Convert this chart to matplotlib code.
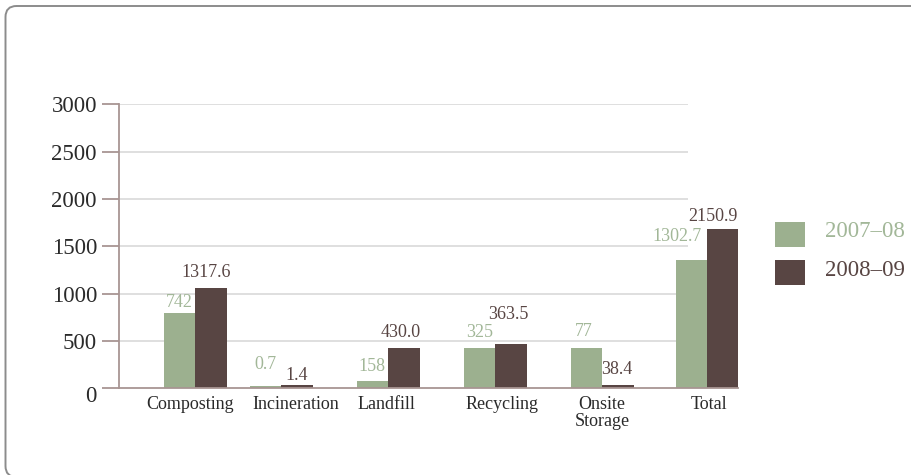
import matplotlib
matplotlib.use("Agg")
import matplotlib.pyplot as plt
from matplotlib.patches import FancyBboxPatch, Rectangle

plt.rcParams['font.family'] = ['Liberation Serif', 'DejaVu Serif']

# ---- data ----
categories = ["Composting", "Incineration", "Landfill", "Recycling", "Onsite\nStorage", "Total"]
series_names = ["2007\u201308", "2008\u201309"]
heights_0708 = [799, 27, 77, 429, 429, 1355]      # drawn bar heights
heights_0809 = [1060, 38, 429, 468, 35, 1683]
labels_0708 = ["742", "0.7", "158", "325", "77", "1302.7"]     # printed values
labels_0809 = ["1317.6", "1.4", "430.0", "363.5", "38.4", "2150.9"]
yticks = [0, 500, 1000, 1500, 2000, 2500, 3000]

# ---- layout (pixel-like x units) ----
W, H, DPI = 911, 475, 100
group_x = [195, 281, 388, 495, 602, 707]
label_x = [190, 296, 386, 502, 602, 709]
bar_w = 31.5
# label offsets (dx, dy) in pixels from bar top centre
off_0708 = [(0, 10.5), (0, 21.7), (0, 14.7), (0, 15.5), (-2, 16.5), (-14, 23.8)]
off_0809 = [(-5, 15.8), (0, 9.4), (-3, 14.7), (-2, 29.5), (-1, 15), (-10, 12.8)]

c_green = "#9cb08f"
c_green_txt = "#a2b798"
c_dark = "#584543"
c_axis = "#a89593"
c_grid = "#dcdcdc"
c_text = "#2a2a2a"

fig = plt.figure(figsize=(W / DPI, H / DPI), dpi=DPI)
ax_left, ax_right = 119, 738
ax_top, ax_bot = 104.3, 388.3
ax = fig.add_axes([ax_left / W, 1 - ax_bot / H, (ax_right - ax_left) / W, (ax_bot - ax_top) / H])
ax.set_xlim(ax_left, ax_right)
ax.set_ylim(0, 3000)

# grid lines (end before right edge as in reference)
ax.hlines(yticks[1:], ax_left, 688, colors=c_grid, linewidth=1.3, zorder=0)

xg = [x - bar_w / 2 for x in group_x]
xd = [x + bar_w / 2 for x in group_x]
ax.bar(xg, heights_0708, width=bar_w, color=c_green, zorder=2, linewidth=0)
ax.bar(xd, heights_0809, width=bar_w, color=c_dark, zorder=2, linewidth=0)

px2pt = 72 / DPI
for x, h, t, (dx, dy) in zip(xg, heights_0708, labels_0708, off_0708):
    ax.annotate(t, (x, h), xytext=(dx * px2pt, dy * px2pt), textcoords="offset points",
                ha="center", va="center", color=c_green_txt, fontsize=13)
for x, h, t, (dx, dy) in zip(xd, heights_0809, labels_0809, off_0809):
    ax.annotate(t, (x, h), xytext=(dx * px2pt, dy * px2pt), textcoords="offset points",
                ha="center", va="center", color=c_dark, fontsize=13)

for s in ["top", "right"]:
    ax.spines[s].set_visible(False)
for s in ["left", "bottom"]:
    ax.spines[s].set_color(c_axis)
    ax.spines[s].set_linewidth(1.3)

ax.set_yticks(yticks)
ax.set_yticklabels([str(v) for v in yticks])
ax.tick_params(axis="y", length=17 * px2pt, width=1.3, color=c_axis, pad=5 * px2pt,
               labelsize=16.5, labelcolor=c_text)
ax.set_xticks(label_x)
ax.set_xticklabels(categories, linespacing=0.95)
ax.tick_params(axis="x", length=0, pad=8 * px2pt, labelsize=13, labelcolor=c_text)
for lab in ax.get_xticklabels():
    lab.set_verticalalignment("top")

# push the "0" label down slightly as in the reference
import matplotlib.transforms as mtransforms
zero_lab = ax.get_yticklabels()[0]
zero_lab.set_transform(zero_lab.get_transform() + mtransforms.ScaledTranslation(0, -6 / DPI, fig.dpi_scale_trans))

# legend drawn in figure pixel space
pix = mtransforms.Affine2D().scale(1 / W, 1 / H) + fig.transFigure
for i, (name, col, tcol) in enumerate(zip(series_names, [c_green, c_dark], [c_green_txt, c_dark])):
    top = 222 + i * 38
    fig.add_artist(Rectangle((775, H - top - 25), 30, 25, transform=pix, color=col, linewidth=0))
    fig.text(825 / W, 1 - (top + 10) / H, name, color=tcol, fontsize=16.5, va="center", ha="left")

# rounded frame
frame = FancyBboxPatch((5.5, -2), 930, H - 6 + 2, boxstyle="round,pad=0,rounding_size=11",
                       transform=pix, facecolor="none", edgecolor="#8c8c8c", linewidth=1.4)
fig.add_artist(frame)

fig.savefig("out.png", dpi=DPI)
